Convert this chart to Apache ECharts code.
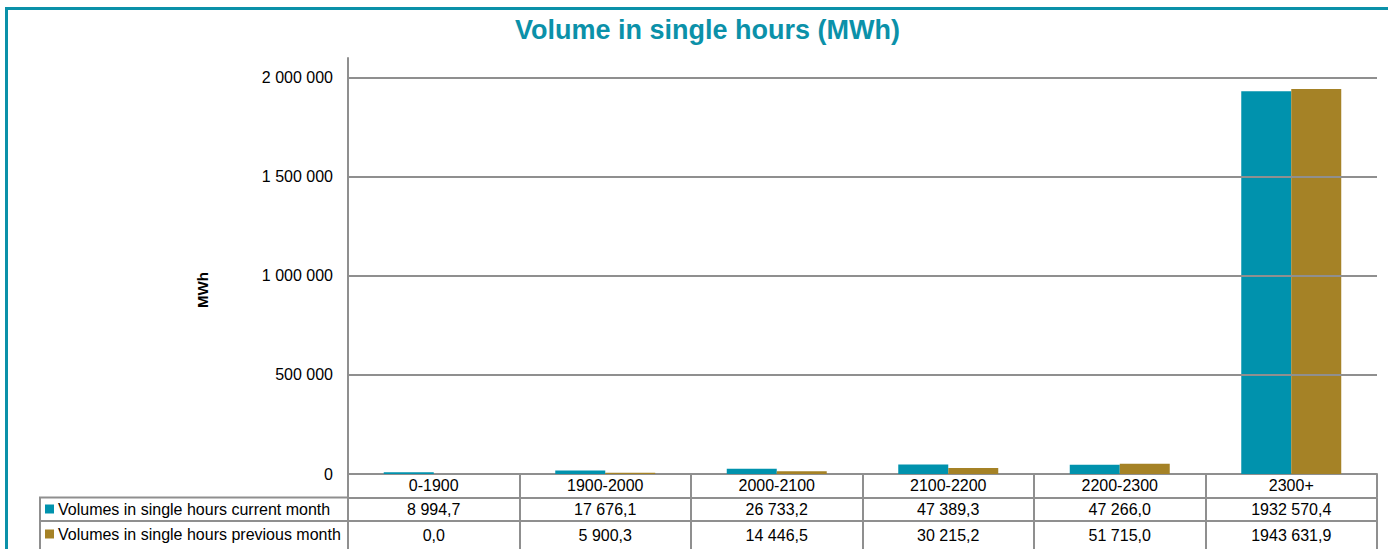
<!DOCTYPE html>
<html>
<head>
<meta charset="utf-8">
<script src="https://cdn.jsdelivr.net/npm/echarts@6/dist/echarts.min.js"></script>
<style>
html,body{margin:0;padding:0;background:#fff;}
#chart{width:1388px;height:549px;}
</style>
</head>
<body>
<div id="chart"></div>
<script>
var titleText = 'Volume in single hours (MWh)';
var axisName = 'MWh';
var categories = ['0-1900', '1900-2000', '2000-2100', '2100-2200', '2200-2300', '2300+'];
var seriesNames = ['Volumes in single hours current month', 'Volumes in single hours previous month'];
var currentMonth = [8994.7, 17676.1, 26733.2, 47389.3, 47266.0, 1932570.4];
var previousMonth = [0.0, 5900.3, 14446.5, 30215.2, 51715.0, 1943631.9];
var yGridValues = [500000, 1000000, 1500000, 2000000];
var yMax = 2100000;

var TEAL = '#0092ad', GOLD = '#a58226', GRID = '#8f8f8f', FONT = '"Liberation Sans", Arial, sans-serif';

function fmtTable(v) {
  var s = v.toFixed(1).split('.');
  var ip = parseInt(s[0], 10);
  var intStr = ip >= 1000 ? Math.floor(ip / 1000) + ' ' + String(ip % 1000).padStart(3, '0') : String(ip);
  return intStr + ',' + s[1];
}
function fmtAxis(v) {
  return String(Math.round(v)).replace(/\B(?=(\d{3})+(?!\d))/g, ' ');
}

var chart = echarts.init(document.getElementById('chart'), null, {renderer: 'svg'});

function tableAxis(offset, values) {
  return {
    type: 'category', data: categories, position: 'bottom', gridIndex: 0,
    offset: offset,
    axisLine: {show: true, lineStyle: {color: GRID, width: 2}},
    axisTick: {show: true, length: offset === 47 ? 40 : 23.5, interval: 0, lineStyle: {color: GRID, width: 2}},
    axisLabel: {
      show: true, interval: 0, margin: offset === 0 ? 3 : (offset === 47 ? 6 : 4), color: '#000', fontSize: 16, fontFamily: FONT,
      formatter: function (val, idx) { return values ? fmtTable(values[idx]) : val; }
    },
    splitLine: {show: false}
  };
}

var option = {
  backgroundColor: '#fff',
  animation: false,
  textStyle: {fontFamily: FONT},
  title: {
    text: titleText, left: 510, top: 11,
    textStyle: {color: '#0b91a9', fontSize: 27, fontWeight: 'bold', fontFamily: FONT}
  },
  legend: {
    orient: 'vertical', left: 45, top: 500, itemGap: 7, padding: 0,
    itemWidth: 9, itemHeight: 9, icon: 'rect', selectedMode: false,
    textStyle: {fontSize: 16, color: '#000', lineHeight: 18, fontFamily: FONT, padding: [0, 0, 0, -1]},
    data: seriesNames
  },
  grid: {left: 348, right: 11, top: 58, bottom: 75, containLabel: false},
  xAxis: [
    tableAxis(0, null),
    tableAxis(23.5, currentMonth),
    tableAxis(47, previousMonth)
  ],
  yAxis: {
    type: 'value', min: 0, max: yMax, interval: 500000,
    axisLine: {show: true, lineStyle: {color: GRID, width: 2}},
    axisTick: {show: false},
    splitLine: {show: false},
    axisLabel: {
      showMaxLabel: false, margin: 15, color: '#000', fontSize: 16, fontFamily: FONT,
      formatter: function (v) { return v % 500000 === 0 ? fmtAxis(v) : ''; }
    }
  },
  graphic: [
    {type: 'rect', shape: {x: 6.5, y: 8.5, width: 1400, height: 560}, style: {fill: 'none', stroke: '#0b91a9', lineWidth: 3}, silent: true, z: -10},
    {type: 'rect', shape: {x: 40, y: 497.5, width: 308, height: 70}, style: {fill: 'none', stroke: GRID, lineWidth: 2}, silent: true},
    {type: 'line', shape: {x1: 40, y1: 521, x2: 348, y2: 521}, style: {stroke: GRID, lineWidth: 2}, silent: true},
    {type: 'text', x: 202, y: 290, rotation: Math.PI / 2,
     style: {text: axisName, fontSize: 15, fontWeight: 'bold', fill: '#000', fontFamily: FONT, align: 'center', verticalAlign: 'middle'}, silent: true}
  ],
  series: [
    {
      name: seriesNames[0], type: 'bar', data: currentMonth, xAxisIndex: 0,
      itemStyle: {color: TEAL}, barGap: '0%', barCategoryGap: '41.7%',
      markLine: {
        silent: true, symbol: 'none', label: {show: false},
        lineStyle: {color: GRID, width: 2, type: 'solid'},
        data: yGridValues.map(function (v) { return {yAxis: v}; })
      }
    },
    {
      name: seriesNames[1], type: 'bar', data: previousMonth, xAxisIndex: 0,
      itemStyle: {color: GOLD}, barGap: '0%', barCategoryGap: '41.7%'
    }
  ]
};
chart.setOption(option);
</script>
</body>
</html>
